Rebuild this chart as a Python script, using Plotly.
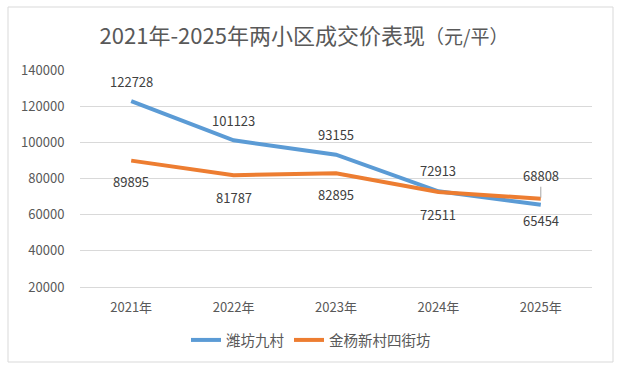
import plotly.graph_objects as go

years = ["2021年", "2022年", "2023年", "2024年", "2025年"]
weifang = [122728, 101123, 93155, 72913, 65454]
jinyang = [89895, 81787, 82895, 72511, 68808]
series_names = ["潍坊九村", "金杨新村四街坊"]
y_ticks = [20000, 40000, 60000, 80000, 100000, 120000, 140000]
y_ticktext = [str(v) for v in y_ticks]

BLUE = "#5B9BD5"
ORANGE = "#ED7D31"
FONT = "Noto Sans CJK SC"
GRAY = "#595959"

fig = go.Figure()
fig.add_trace(go.Scatter(x=years, y=weifang, mode="lines", name=series_names[0],
                         line=dict(color=BLUE, width=4)))
fig.add_trace(go.Scatter(x=years, y=jinyang, mode="lines", name=series_names[1],
                         line=dict(color=ORANGE, width=4)))

# data labels
blue_shift = [20, 20, 20, 21, -16]
orange_shift = [-21, -22, -21, -22, None]
for i, (x, v) in enumerate(zip(years, weifang)):
    fig.add_annotation(x=x, y=v, text=str(v), showarrow=False, yshift=blue_shift[i],
                       font=dict(family=FONT, size=13, color="#404040"))
for i, (x, v) in enumerate(zip(years, jinyang)):
    if orange_shift[i] is None:
        fig.add_annotation(x=x, y=v, text=str(v), showarrow=True, arrowhead=0,
                           arrowwidth=1, arrowcolor="#A6A6A6", ax=0, ay=-23, standoff=1,
                           font=dict(family=FONT, size=13, color="#404040"))
    else:
        fig.add_annotation(x=x, y=v, text=str(v), showarrow=False, yshift=orange_shift[i],
                           font=dict(family=FONT, size=13, color="#404040"))

# chart border
fig.add_shape(type="rect", xref="paper", yref="paper",
              x0=(8 - 80) / 512, x1=(613 - 80) / 512,
              y0=(287 - 362) / 217, y1=(287 - 7) / 217,
              line=dict(color="#D9D9D9", width=1), layer="below")

fig.update_layout(
    width=620, height=376,
    margin=dict(l=80, r=28, t=70, b=89),
    paper_bgcolor="white", plot_bgcolor="white",
    title=dict(text="2021年-2025年两小区成交价表现<span style='font-size:19px'>（元/平）</span>",
               x=(304 - 80) / 512, xanchor="center", xref="paper", y=1 - 36 / 376, yanchor="middle",
               font=dict(family=FONT, size=22, color=GRAY)),
    legend=dict(orientation="h", x=(311 - 80) / 512, xanchor="center",
                y=(287 - 340) / 217, yanchor="middle",
                font=dict(family=FONT, size=14.5, color=GRAY), itemwidth=30),
    font=dict(family=FONT, color=GRAY),
)
fig.update_xaxes(range=[-0.5, 4.5], showgrid=False, showline=True, linecolor="#D9D9D9", linewidth=1,
                 ticks="outside", ticklen=8, tickcolor="rgba(0,0,0,0)",
                 tickfont=dict(family=FONT, size=13, color=GRAY))
fig.update_yaxes(range=[20000, 140000], tickvals=y_ticks, ticktext=y_ticktext, showgrid=True,
                 gridcolor="#D9D9D9", gridwidth=1, zeroline=False, showline=False,
                 ticks="outside", ticklen=12, tickcolor="rgba(0,0,0,0)",
                 tickfont=dict(family=FONT, size=13, color=GRAY))

fig.write_html("out.html", config={"displayModeBar": False},
               post_script="document.body.style.margin='0';")
